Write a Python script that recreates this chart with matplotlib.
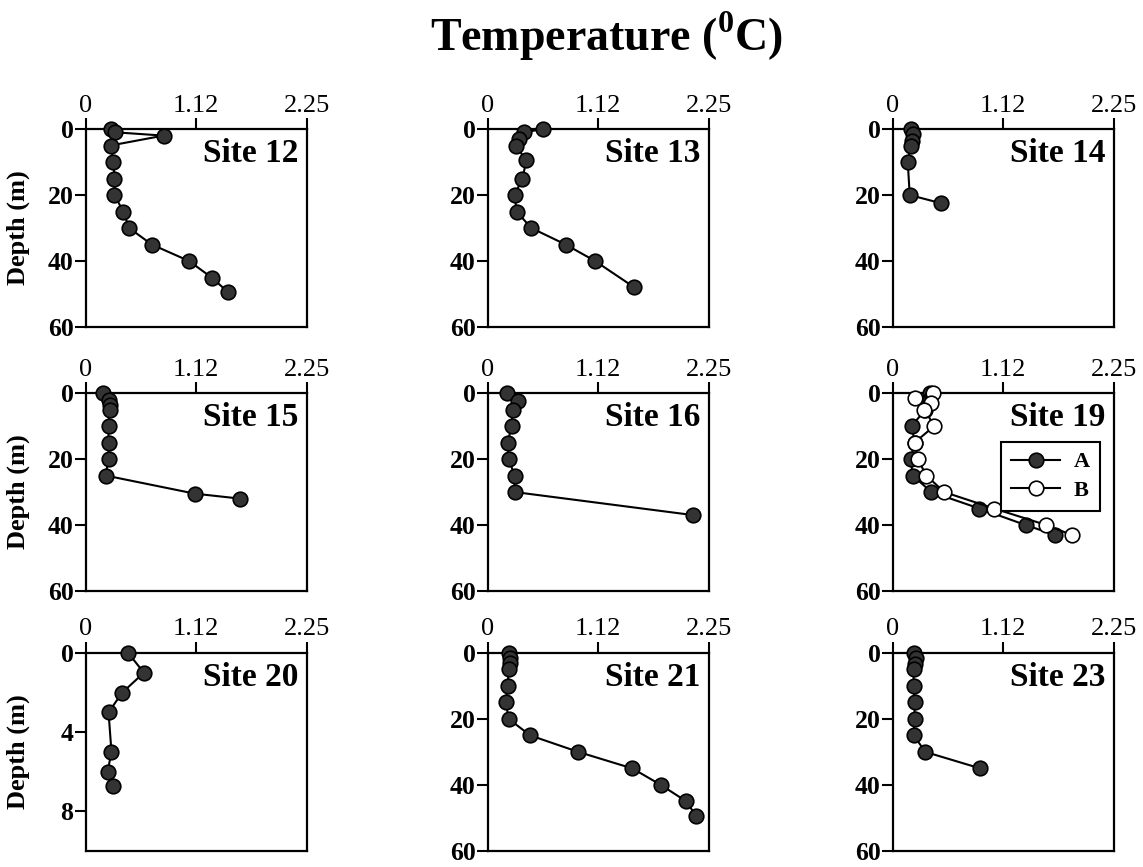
import matplotlib
matplotlib.use('Agg')
import matplotlib.pyplot as plt

plt.rcParams['font.family'] = ['Liberation Serif', 'DejaVu Serif']
plt.rcParams['mathtext.fontset'] = 'custom'
plt.rcParams['mathtext.rm'] = 'Liberation Serif'
plt.rcParams['mathtext.bf'] = 'Liberation Serif:bold'

#### Datos ####

sites = ['Site 12', 'Site 13', 'Site 14', 'Site 15', 'Site 16', 'Site 19',
         'Site 20', 'Site 21', 'Site 23']

depth_12 = [0, 1, 2, 5, 10, 15, 20, 25, 30, 35, 40, 45, 49.5]
temp_12 = [0.26, 0.30, 0.79, 0.25, 0.28, 0.29, 0.29, 0.38, 0.44, 0.67, 1.05, 1.28, 1.45]

depth_13 = [0, 1, 3, 5, 9.5, 15, 20, 25, 30, 35, 40, 48]
temp_13 = [0.56, 0.37, 0.31, 0.28, 0.39, 0.35, 0.27, 0.29, 0.44, 0.79, 1.09, 1.49]

depth_14 = [0, 1.5, 3.5, 5, 10, 20, 22.5]
temp_14 = [0.18, 0.20, 0.19, 0.18, 0.15, 0.17, 0.49]

depth_15 = [0, 2, 3.5, 5, 10, 15, 20, 25, 30.5, 32]
temp_15 = [0.17, 0.23, 0.24, 0.24, 0.23, 0.23, 0.23, 0.20, 1.11, 1.57]

depth_16 = [0, 2.5, 5, 10, 15, 20, 25, 30, 37]
temp_16 = [0.19, 0.30, 0.25, 0.24, 0.20, 0.21, 0.27, 0.27, 2.09]

depth_19a = [0, 3, 5, 10, 15, 20, 25, 30, 35, 40, 43]
temp_19a = [0.38, 0.36, 0.33, 0.19, 0.22, 0.18, 0.20, 0.39, 0.88, 1.35, 1.65]
depth_19b = [0, 1.5, 3, 5, 10, 15, 20, 25, 30, 35, 40, 43]
temp_19b = [0.41, 0.22, 0.39, 0.32, 0.42, 0.22, 0.25, 0.34, 0.52, 1.03, 1.56, 1.82]

depth_20 = [0, 1, 2, 3, 5, 6, 6.7]
temp_20 = [0.43, 0.59, 0.37, 0.23, 0.26, 0.22, 0.28]

depth_21 = [0, 1.5, 3, 5, 10, 15, 20, 25, 30, 35, 40, 45, 49.5]
temp_21 = [0.21, 0.22, 0.22, 0.21, 0.20, 0.18, 0.21, 0.43, 0.92, 1.47, 1.76, 2.02, 2.12]

depth_23 = [0, 1.5, 3.5, 5, 10, 15, 20, 25, 30, 35]
temp_23 = [0.21, 0.23, 0.22, 0.21, 0.21, 0.22, 0.22, 0.21, 0.33, 0.89]

perfiles = [(temp_12, depth_12), (temp_13, depth_13), (temp_14, depth_14),
            (temp_15, depth_15), (temp_16, depth_16), (temp_19a, depth_19a),
            (temp_20, depth_20), (temp_21, depth_21), (temp_23, depth_23)]

x_ticks = [0, 1.12, 2.25]
x_ticklabels = ['0', '1.12', '2.25']
y_ticks = [0, 20, 40, 60]
y_ticks_20 = [0, 4, 8]

###########################

fig = plt.figure(figsize=(11.43, 8.67), dpi=100, facecolor='w')

col_left = [0.0752, 0.427, 0.7813]
row_bottom = [0.6228, 0.3183, 0.0185]
ax_w = 0.1933
ax_h = 0.2284

estilo_A = dict(color='k', lw=1.5, marker='o', ms=10.5, mfc='#333333', mec='k', mew=1.2)
estilo_B = dict(color='k', lw=1.5, marker='o', ms=10.5, mfc='w', mec='k', mew=1.2)

for ii, (name, (tt, dd)) in enumerate(zip(sites, perfiles)):
    fila, col = divmod(ii, 3)
    ax = fig.add_axes([col_left[col], row_bottom[fila], ax_w, ax_h])

    ax.plot(tt, dd, label='A', zorder=3, clip_on=False, **estilo_A)
    if name == 'Site 19':
        ax.plot(temp_19b, depth_19b, label='B', zorder=4, clip_on=False, **estilo_B)
        leg = ax.legend(loc='upper right', bbox_to_anchor=(0.985, 0.81), fancybox=False,
                        edgecolor='k', framealpha=1, handlelength=2.2, borderpad=0.45,
                        labelspacing=0.35, handletextpad=0.6,
                        prop={'weight': 'bold', 'size': 16})
        leg.get_frame().set_linewidth(1.5)

    ax.set_xlim(0, 2.25)
    if name == 'Site 20':
        ax.set_ylim(10, 0)
        ax.set_yticks(y_ticks_20)
    else:
        ax.set_ylim(60, 0)
        ax.set_yticks(y_ticks)

    ax.set_xticks(x_ticks)
    ax.set_xticklabels(x_ticklabels)
    ax.xaxis.tick_top()
    ax.tick_params(axis='x', direction='out', length=8, width=1.5, labelsize=19, pad=1)
    ax.tick_params(axis='y', direction='out', length=8, width=1.5, labelsize=18.5, pad=1)
    for lab in ax.get_yticklabels():
        lab.set_fontweight('bold')
    for sp in ax.spines.values():
        sp.set_linewidth(1.6)

    ax.text(0.96, 0.875, name, transform=ax.transAxes, ha='right', va='center',
            fontsize=24, fontweight='bold')

    if col == 0:
        ax.set_ylabel('Depth (m)', fontsize=19, fontweight='bold')
        ax.yaxis.set_label_coords(-0.255, 0.5)

fig.text(606 / 1143, 0.958, r'Temperature ($^{\mathbf{0}}$C)', ha='center', va='center',
         fontsize=33, fontweight='bold')

plt.savefig('out.png', dpi=100)
